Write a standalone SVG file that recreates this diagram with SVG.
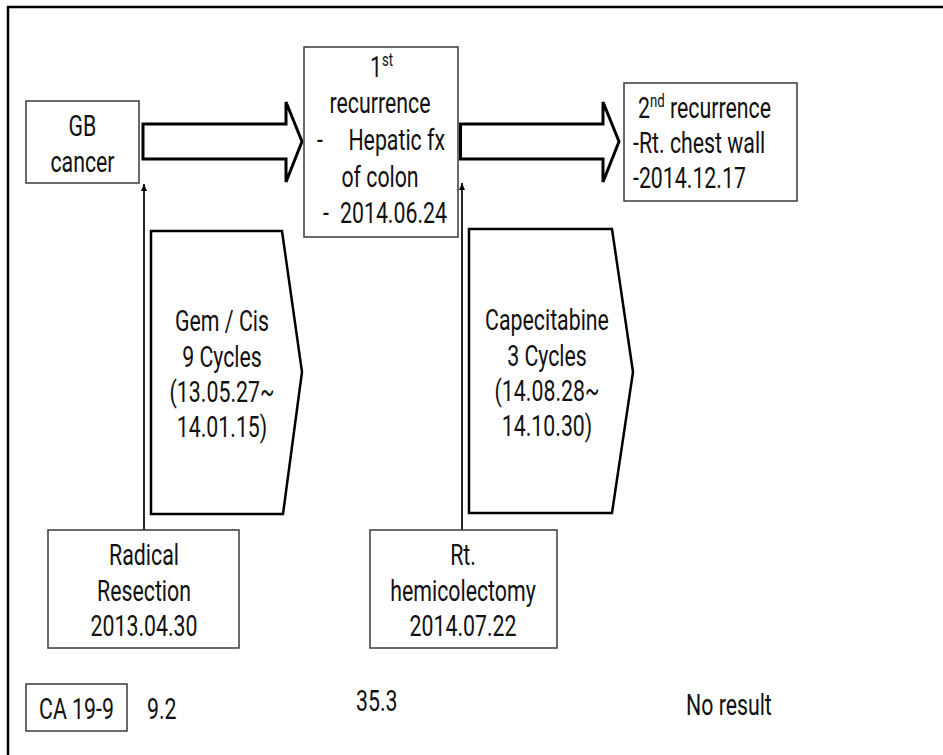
<svg xmlns="http://www.w3.org/2000/svg" width="943" height="755" viewBox="0 0 943 755">
<style>
  .box { fill: #fff; stroke: #3a3a3a; stroke-width: 1.5; }
  .blk { fill: #fff; stroke: #000; stroke-width: 3; stroke-linejoin: miter; }
  .pent { fill: #fff; stroke: #000; stroke-width: 2.5; stroke-linejoin: miter; }
  .conn { stroke: #000; stroke-width: 1.7; fill: none; }
  text { font-family: Roboto, "Open Sans", "Liberation Sans", sans-serif; font-size: 29px; fill: #111; }
  .c { text-anchor: middle; }
  .e { text-anchor: end; }
  .sup { font-size: 18px; }
</style>
<defs>
  <marker id="ah" markerUnits="userSpaceOnUse" markerWidth="8" markerHeight="8" refX="7" refY="3" orient="auto">
    <path d="M0,0 L7,3 L0,6 Z" fill="#000"/>
  </marker>
</defs>
<rect width="943" height="755" fill="#fff"/>
<rect x="8" y="7" width="950" height="770" fill="none" stroke="#000" stroke-width="2.5"/>

<g id="connectors">
  <path id="arrow-gb-1st" class="blk" d="M143,124 H286 V102 L302,141.5 L286,182 V159 H143 Z"/>
  <path id="arrow-1st-2nd" class="blk" d="M460.5,124 H603 V102 L619,141.5 L603,182 V159 H460.5 Z"/>
  <line id="line-resection" class="conn" x1="144" y1="530" x2="144" y2="184" marker-end="url(#ah)"/>
  <line id="line-hemicolectomy" class="conn" x1="462" y1="530" x2="462" y2="183" marker-end="url(#ah)"/>
</g>

<g id="gb-cancer">
  <rect class="box" x="26" y="101" width="113" height="82"/>
  <text class="c" transform="translate(82.5,136) scale(0.735,1)">GB</text>
  <text class="c" transform="translate(82.5,172) scale(0.735,1)">cancer</text>
</g>

<g id="first-recurrence">
  <rect class="box" x="304" y="47" width="154" height="190"/>
  <text class="c" transform="translate(381.5,76.5) scale(0.735,1)">1<tspan class="sup" dy="-11">st</tspan></text>
  <text class="c" transform="translate(380,113) scale(0.735,1)">recurrence</text>
  <text transform="translate(317,150) scale(0.735,1)">-</text>
  <text class="e" transform="translate(445,150) scale(0.735,1)">Hepatic fx</text>
  <text class="c" transform="translate(380,186.5) scale(0.735,1)">of colon</text>
  <text transform="translate(323,223) scale(0.735,1)">-</text>
  <text class="e" transform="translate(447,223) scale(0.735,1)">2014.06.24</text>
</g>

<g id="second-recurrence">
  <rect class="box" x="624" y="83" width="173" height="118"/>
  <text transform="translate(638,118) scale(0.735,1)">2<tspan class="sup" dy="-11">nd</tspan><tspan dy="11"> recurrence</tspan></text>
  <text transform="translate(633,153) scale(0.735,1)">-Rt. chest wall</text>
  <text transform="translate(633,188) scale(0.735,1)">-2014.12.17</text>
</g>

<g id="gem-cis">
  <path class="pent" d="M151,231 H282 L302,372 L283,514 H151 Z"/>
  <text class="c" transform="translate(222,331) scale(0.735,1)">Gem / Cis</text>
  <text class="c" transform="translate(222,366.5) scale(0.735,1)">9 Cycles</text>
  <text class="c" transform="translate(222,401.5) scale(0.735,1)">(13.05.27~</text>
  <text class="c" transform="translate(222,436.5) scale(0.735,1)">14.01.15)</text>
</g>

<g id="capecitabine">
  <path class="pent" d="M469,229 H612 L633,372 L612,513 H469 Z"/>
  <text class="c" transform="translate(547,330) scale(0.735,1)">Capecitabine</text>
  <text class="c" transform="translate(547,365.5) scale(0.735,1)">3 Cycles</text>
  <text class="c" transform="translate(547,400.5) scale(0.735,1)">(14.08.28~</text>
  <text class="c" transform="translate(547,435.5) scale(0.735,1)">14.10.30)</text>
</g>

<g id="radical-resection">
  <rect class="box" x="48" y="530" width="191" height="118"/>
  <text class="c" transform="translate(144,565) scale(0.735,1)">Radical</text>
  <text class="c" transform="translate(144,601) scale(0.735,1)">Resection</text>
  <text class="c" transform="translate(144,636) scale(0.735,1)">2013.04.30</text>
</g>

<g id="hemicolectomy">
  <rect class="box" x="370" y="530" width="187" height="118"/>
  <text class="c" transform="translate(463,565) scale(0.735,1)">Rt.</text>
  <text class="c" transform="translate(463,601) scale(0.735,1)">hemicolectomy</text>
  <text class="c" transform="translate(463,636) scale(0.735,1)">2014.07.22</text>
</g>

<g id="ca199">
  <rect class="box" x="26" y="684" width="101" height="47"/>
  <text class="c" transform="translate(76.5,719) scale(0.735,1)">CA 19-9</text>
  <text transform="translate(147,719) scale(0.735,1)">9.2</text>
  <text transform="translate(356,711) scale(0.735,1)">35.3</text>
  <text transform="translate(686,715) scale(0.735,1)">No result</text>
</g>
</svg>
